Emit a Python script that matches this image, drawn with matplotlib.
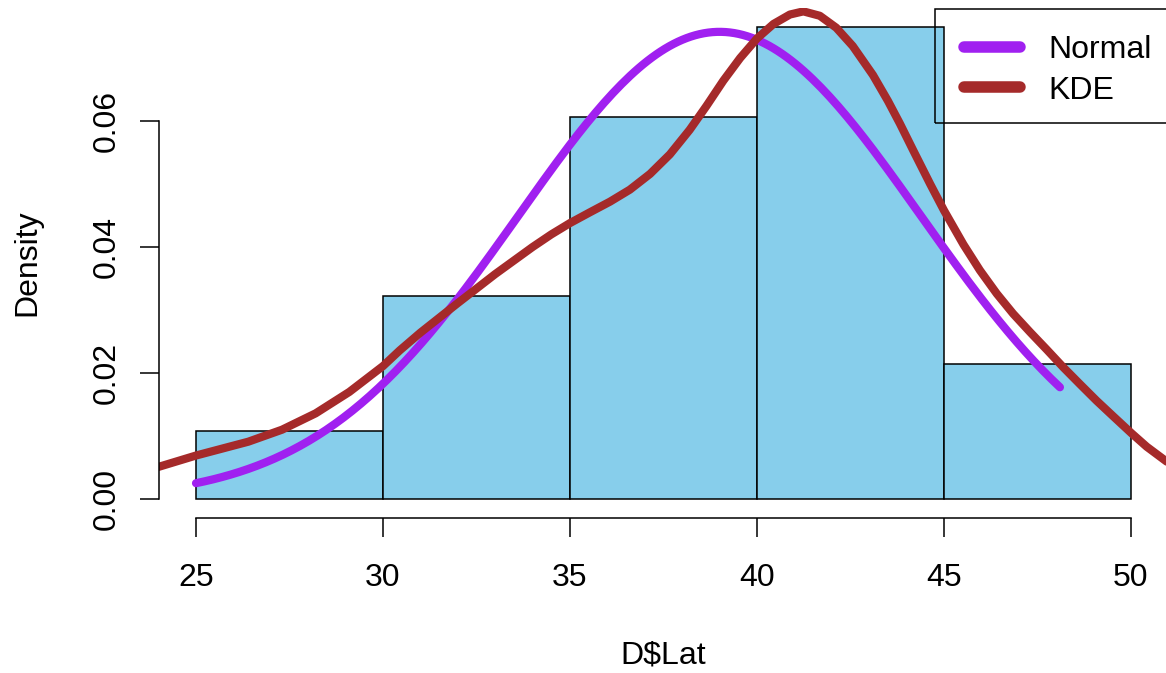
"""
Histogram of D$Lat with a fitted Normal curve and a KDE curve on top.
Saves out.png (1166x673).
"""

import numpy as np
import matplotlib
matplotlib.use("Agg")
import matplotlib.pyplot as plt
from matplotlib.lines import Line2D
from matplotlib.patches import Rectangle

plt.rcParams['font.family'] = ['Liberation Sans', 'DejaVu Sans']

# ---- data ----
bin_edges = [25, 30, 35, 40, 45, 50]
bin_counts = [3, 9, 17, 21, 6]

# fitted normal (curve drawn over the data range)
normal_mean = 39.0
normal_sd = 5.38
normal_from = 25.0
normal_to = 48.1

# KDE curve
kde_x = [23.8, 24.0, 25.0, 26.4, 27.3, 28.2, 29.1, 30.0, 30.45, 31.0, 32.0,
         33.0, 34.0, 34.5, 35.0, 35.53, 36.07, 36.6, 37.14, 37.67, 38.2,
         38.65, 39.1, 39.55, 40.0, 40.44, 40.88, 41.24, 41.68, 42.12, 42.56,
         43.1, 43.5, 43.82, 44.18, 44.63, 45.0, 45.52, 45.96, 46.41, 46.85,
         47.3, 47.75, 48.19, 48.64, 49.08, 49.53, 50.02, 50.42, 50.94, 51.2]
kde_y = [0.0048, 0.0051, 0.0069, 0.0091, 0.0110, 0.0136, 0.0170, 0.0211,
         0.0236, 0.0264, 0.0311, 0.0357, 0.0400, 0.0420, 0.0438, 0.0455,
         0.0472, 0.0491, 0.0516, 0.0547, 0.0586, 0.0624, 0.0664, 0.0700,
         0.0731, 0.0754, 0.0769, 0.0774, 0.0767, 0.0748, 0.0719, 0.0673,
         0.0632, 0.0596, 0.0553, 0.0500, 0.0458, 0.0404, 0.0363, 0.0326,
         0.0294, 0.0265, 0.0237, 0.0209, 0.0182, 0.0156, 0.0131, 0.0104,
         0.0083, 0.0060, 0.0050]

x_ticks = [25, 30, 35, 40, 45, 50]
y_ticks = [0.00, 0.02, 0.04, 0.06]
legend_labels = ["Normal", "KDE"]

# ---- styling ----
BAR_COLOR = "#87CEEB"
NORMAL_COLOR = "#A020F0"
KDE_COLOR = "#A52A2A"
FS = 23
W, H = 1166, 673

fig = plt.figure(figsize=(W / 100, H / 100), dpi=100)
# plot region in pixels: x 158.6..1168.4, y 7.6..517.9 (from top)
ax = fig.add_axes([158.6 / W, 1 - 517.9 / H, 1009.8 / W, 510.3 / H])
ax.set_xlim(24, 51)
ax.set_ylim(-0.003, 0.078)

centers = [(a + b) / 2 for a, b in zip(bin_edges[:-1], bin_edges[1:])]
ax.hist(centers, bins=bin_edges, weights=bin_counts, density=True,
        color=BAR_COLOR, edgecolor="black", linewidth=1.1)

nx = np.linspace(normal_from, normal_to, 200)
ny = np.exp(-0.5 * ((nx - normal_mean) / normal_sd) ** 2) / (normal_sd * np.sqrt(2 * np.pi))
ax.plot(nx, ny, color=NORMAL_COLOR, lw=5.9, solid_capstyle="round")
ax.plot(kde_x, kde_y, color=KDE_COLOR, lw=5.9, solid_capstyle="round",
        solid_joinstyle="round")

# R style axes: no box, axis lines only between first and last tick
for side in ["top", "right"]:
    ax.spines[side].set_visible(False)
ax.spines["left"].set_bounds(y_ticks[0], y_ticks[-1])
ax.spines["bottom"].set_bounds(x_ticks[0], x_ticks[-1])
ax.spines["left"].set_linewidth(1.1)
ax.spines["bottom"].set_linewidth(1.1)

ax.set_xticks(x_ticks)
ax.set_xticklabels([str(t) for t in x_ticks])
ax.set_yticks(y_ticks)
ax.set_yticklabels([f"{t:.2f}" for t in y_ticks], rotation=90, va="center")
ax.tick_params(axis="both", direction="out", length=13.7, width=1.1,
               labelsize=FS)
ax.tick_params(axis="x", pad=19)
ax.tick_params(axis="y", pad=12.5)

fig.text(663.5 / W, 1 - 663 / H, "D$Lat", fontsize=FS, ha="center",
         va="baseline")
fig.text(35 / W, 1 - 262.8 / H, "Density", fontsize=FS, ha="center",
         va="baseline", rotation=90, rotation_mode="anchor")

# legend: transparent, box reaching past the right edge like the original
box_left = (935 - 158.6) / 1009.8
box_bottom = (517.9 - 123) / 510.3
ax.add_patch(Rectangle((box_left, box_bottom), 1 - box_left, 0.997 - box_bottom,
                       transform=ax.transAxes, fill=False, edgecolor="black",
                       linewidth=1.1, clip_on=False))
handles = [Line2D([], [], color=NORMAL_COLOR, lw=8.3, solid_capstyle="round"),
           Line2D([], [], color=KDE_COLOR, lw=8.3, solid_capstyle="round")]
ax.legend(handles, legend_labels, loc="upper left",
          bbox_to_anchor=((963.5 - 158.6) / 1009.8, (517.9 - 35) / 510.3),
          frameon=False, fontsize=FS, borderpad=0, borderaxespad=0,
          handlelength=1.78, handletextpad=0.87, labelspacing=0.33)

fig.savefig("out.png", dpi=100)
plt.close(fig)
